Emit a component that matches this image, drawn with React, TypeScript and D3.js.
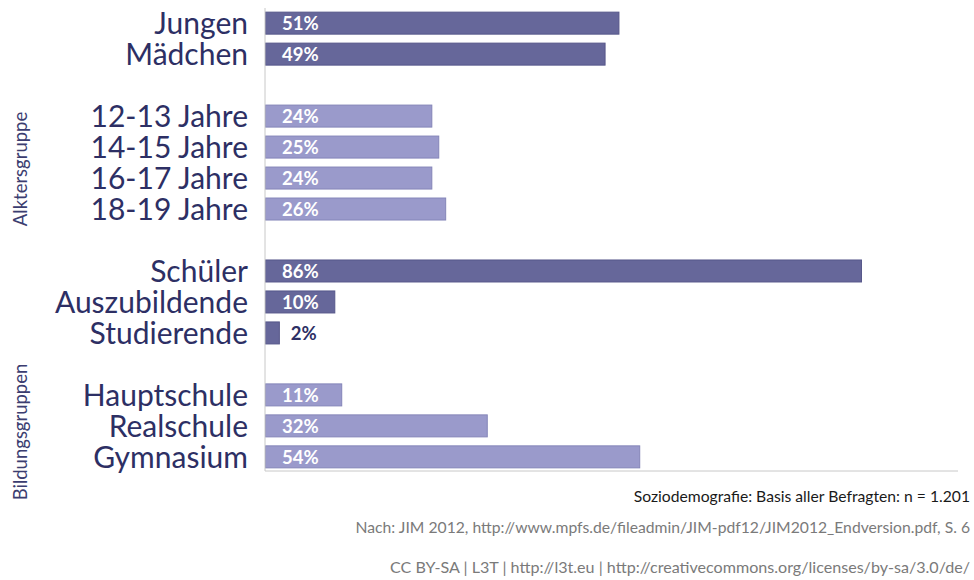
import React from "react";
import * as d3 from "d3";

const categories = ["Jungen", "Mädchen", "", "12-13 Jahre", "14-15 Jahre", "16-17 Jahre", "18-19 Jahre", "", "Schüler", "Auszubildende", "Studierende", "", "Hauptschule", "Realschule", "Gymnasium"];
const values: (number | null)[] = [51, 49, null, 24, 25, 24, 26, null, 86, 10, 2, null, 11, 32, 54];
const shades = ["dark", "dark", "", "light", "light", "light", "light", "", "dark", "dark", "dark", "", "light", "light", "light"];
const groupLabels = ["Alktersgruppe", "Bildungsgruppen"];
const footer = [
  "Soziodemografie: Basis aller Befragten: n = 1.201",
  "Nach: JIM 2012, http://www.mpfs.de/fileadmin/JIM-pdf12/JIM2012_Endversion.pdf, S. 6",
  "CC BY-SA | L3T | http://l3t.eu | http://creativecommons.org/licenses/by-sa/3.0/de/",
];

const W = 974, H = 580;
const FONT = "Lato, 'Open Sans', sans-serif";

export default function App() {
  const x = d3.scaleLinear().domain([0, 100]).range([265, 958]);
  const y = d3.scaleBand<number>().domain(d3.range(categories.length)).range([7.5, 472.5]).paddingInner(0.29).paddingOuter(0.15);
  const bh = y.bandwidth();
  const fill = (s: string) => (s === "dark" ? "#66679a" : "#9a9acb");
  const stroke = (s: string) => (s === "dark" ? "#56578a" : "#8485b8");
  return (
    <svg width={W} height={H} style={{ position: "absolute", left: 0, top: 0, background: "#fff" }} fontFamily={FONT}>
      {categories.map((c, i) => {
        const v = values[i];
        if (v === null) return null;
        const yc = (y(i) as number) + bh / 2;
        return (
          <g key={i}>
            <text x={248} y={yc} dy="0.36em" textAnchor="end" fontSize={30} fill="#2d2f64">{c}</text>
            <rect x={x(0) + 0.5} y={y(i)} width={x(v) - x(0)} height={bh} fill={fill(shades[i])} stroke={stroke(shades[i])} strokeWidth={1} />
            {v >= 5 ? (
              <text x={282} y={yc} dy="0.36em" fontSize={18.5} fontWeight={700} fill="#ffffff">{v}%</text>
            ) : (
              <text x={x(v) + 12} y={yc} dy="0.36em" fontSize={18.5} fontWeight={700} fill="#2d2f64">{v}%</text>
            )}
          </g>
        );
      })}
      <line x1={265} x2={265} y1={8} y2={471} stroke="#c8c8c8" strokeWidth={1} />
      <line x1={265} x2={958} y1={471} y2={471} stroke="#c8c8c8" strokeWidth={1} />
      <text transform="translate(27,169) rotate(-90)" textAnchor="middle" fontSize={18.5} fill="#3b3d70">{groupLabels[0]}</text>
      <text transform="translate(27,432) rotate(-90)" textAnchor="middle" fontSize={18.5} fill="#3b3d70">{groupLabels[1]}</text>
      <text x={970} y={502} textAnchor="end" fontSize={15.7} fill="#1a1a1a">{footer[0]}</text>
      <text x={970} y={533} textAnchor="end" fontSize={15.7} fill="#7a7a7a">{footer[1]}</text>
      <text x={970} y={573} textAnchor="end" fontSize={16.1} fill="#7a7a7a">{footer[2]}</text>
    </svg>
  );
}
